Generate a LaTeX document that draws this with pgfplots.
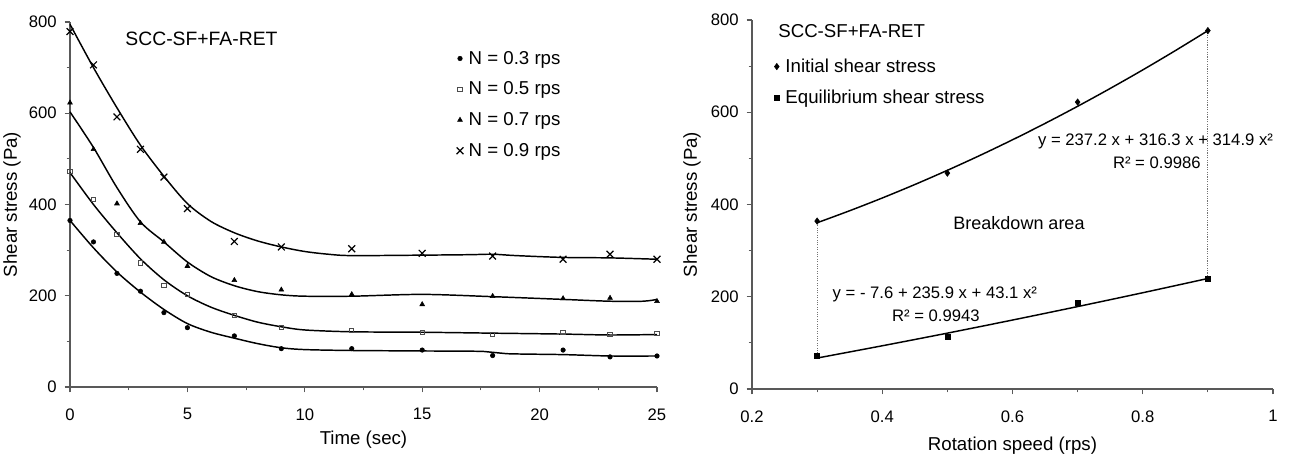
\documentclass[border=0pt]{standalone}
\usepackage{fontspec}
\setmainfont{Liberation Sans}
\usepackage{pgfplots}
\pgfplotsset{compat=1.18}

\pgfplotsset{
  mystyle/.style={
    scale only axis,
    axis lines=left,
    axis line style={-, black!65, line width=0.9pt},
    tick style={black!65, line width=0.8pt},
    tick align=outside,
    major tick length=4pt,
    minor tick length=2.5pt,
    minor tick num=1,
    tick label style={font=\fontsize{12.5}{14}\selectfont},
    /pgf/number format/assume math mode=true,
    label style={font=\fontsize{14}{16}\selectfont},
    ymin=0, ymax=800,
    ytick={0,200,...,800},
    yticklabel style={xshift=-2.5pt},
    xticklabel style={yshift=-8.5pt},
    clip=false,
    legend cell align=left,
    legend image code/.code={\path (0cm,0cm) (0.3cm,0cm); \draw[mark repeat=2,mark phase=2,#1] plot coordinates {(0cm,0cm)(0.15cm,0cm)(0.3cm,0cm)};},
  },
  fit/.style={black, line width=1.1pt, smooth, no markers, forget plot},
}

\begin{document}
\begin{tikzpicture}
\useasboundingbox (0,0) rectangle (986.25pt,340.5pt);

% ---------------- Left chart ----------------
\begin{axis}[mystyle,
  at={(52.5pt,50.25pt)}, anchor=south west,
  width=440.25pt, height=273.75pt,
  xmin=0, xmax=25, xtick={0,5,...,25},
  xlabel={Time (sec)}, ylabel={Shear stress (Pa)},
  xlabel style={at={(axis description cs:0.5,-0.145)}, anchor=center},
  ylabel style={at={(axis description cs:-0.0988,0.5)}, anchor=center},
  legend style={draw=none, fill=none, font=\fontsize{14}{16}\selectfont,
    at={(axis description cs:0.647,0.936)}, anchor=north west, row sep=7.8pt},
]
% data points
\addplot[only marks, mark=*, mark size=1.7pt, black] coordinates {
 (0,365) (1,318) (2,249) (3,210) (4,163) (5,130) (7,112) (9,84) (12,84) (15,81) (18,69) (21,81) (23,66) (25,68)};
\addlegendentry{N = 0.3 rps}
\addplot[only marks, mark=square, mark size=1.6pt, black!70, mark options={line width=0.7pt}] coordinates {
 (0,472) (1,411) (2,335) (3,272) (4,223) (5,203) (7,156) (9,130) (12,124) (15,120) (18,115) (21,119) (23,115) (25,117)};
\addlegendentry{N = 0.5 rps}
\addplot[only marks, mark=triangle*, mark size=2.1pt, black] coordinates {
 (0,623) (1,521) (2,402) (3,359) (4,318) (5,265) (7,234) (9,213) (12,203) (15,181) (18,199) (21,194) (23,195) (25,188)};
\addlegendentry{N = 0.7 rps}
\addplot[only marks, mark=x, mark size=3.6pt, black, mark options={line width=0.9pt}] coordinates {
 (0,779) (1,706) (2,592) (3,521) (4,460) (5,391) (7,319) (9,307) (12,303) (15,293) (18,287) (21,280) (23,291) (25,280)};
\addlegendentry{N = 0.9 rps}
% fitted curves
\addplot[fit] coordinates {
 (0,795) (1,700) (2,612) (3,530) (4,462) (5,402) (6,363) (7,338) (8,320) (9,307) (10,297) (11,291) (12,288) (15,289) (17,290) (18,291) (19,288) (21,284) (23,283) (25,280)};
\addplot[fit] coordinates {
 (0,603) (1,525) (2,437) (3,362) (4,318) (5,274) (6,242) (7,222) (8,209) (9,202) (10,199) (12,199) (15,203) (18,198) (21,192) (23,188) (24.4,188) (25,192)};
\addplot[fit] coordinates {
 (0,470) (1,400) (2,338) (3,281) (4,235) (5,200) (6,175) (7,157) (8,142) (9,132) (10,125) (12,121) (15,120) (18,118) (21,116) (23,114) (25,115)};
\addplot[fit] coordinates {
 (0,365) (1,305) (2,252) (3,208) (4,170) (5,139) (6,120) (7,107) (8,95) (9,86) (10,82) (12,80) (15,79) (17.6,78) (18.6,73) (21,71) (23,68) (25,68)};
\node[font=\fontsize{14.5}{16}\selectfont] at (axis description cs:0.224,0.953) {SCC-SF+FA-RET};
\end{axis}

% ---------------- Right chart ----------------
\begin{axis}[mystyle,
  at={(564pt,48.75pt)}, anchor=south west,
  width=390.75pt, height=276.75pt,
  xmin=0.2, xmax=1, xtick={0.2,0.4,0.6,0.8,1},
  xlabel={Rotation speed (rps)}, ylabel={Shear stress (Pa)},
  xlabel style={at={(axis description cs:0.5,-0.153)}, anchor=center},
  ylabel style={at={(axis description cs:-0.1152,0.5)}, anchor=center},
  legend style={draw=none, fill=none, font=\fontsize{14}{16}\selectfont,
    at={(axis description cs:0.028,0.91)}, anchor=north west, row sep=7.5pt},
]
\addplot[only marks, mark=diamond*, mark size=2.4pt, black] coordinates {
 (0.3,364) (0.5,468) (0.7,622) (0.9,777)};
\addlegendentry{Initial shear stress}
\addplot[only marks, mark=square*, mark size=1.9pt, black] coordinates {
 (0.3,72) (0.5,114) (0.7,186) (0.9,240)};
\addlegendentry{Equilibrium shear stress}
% fitted curves
\addplot[fit] coordinates {
 (0.3,360.4) (0.35,386.5) (0.4,414.1) (0.45,443.3) (0.5,474.1) (0.55,506.4) (0.6,540.3) (0.65,575.8) (0.7,612.9) (0.75,651.6) (0.8,691.8) (0.85,733.6) (0.9,776.9)};
\addplot[fit] coordinates {
 (0.3,67.1) (0.4,93.7) (0.5,121.1) (0.6,149.5) (0.7,178.7) (0.8,208.7) (0.9,239.6)};
% breakdown boundaries
\addplot[black!55, densely dotted, line width=0.8pt, forget plot] coordinates {(0.3,72) (0.3,364)};
\addplot[black!55, densely dotted, line width=0.8pt, forget plot] coordinates {(0.9,240) (0.9,777)};
\node[font=\fontsize{14}{16}\selectfont, anchor=west] at (axis description cs:0.0415,0.970) {SCC-SF+FA-RET};
\node[font=\fontsize{12.5}{14}\selectfont] at (axis description cs:0.7745,0.672) {y = 237.2 x + 316.3 x + 314.9 x²};
\node[font=\fontsize{12.5}{14}\selectfont] at (axis description cs:0.777,0.612) {R² = 0.9986};
\node[font=\fontsize{13.5}{16}\selectfont] at (axis description cs:0.5125,0.450) {Breakdown area};
\node[font=\fontsize{12.5}{14}\selectfont] at (axis description cs:0.351,0.2575) {y = - 7.6 + 235.9 x + 43.1 x²};
\node[font=\fontsize{12.5}{14}\selectfont] at (axis description cs:0.353,0.198) {R² = 0.9943};
\end{axis}
\end{tikzpicture}
\end{document}
